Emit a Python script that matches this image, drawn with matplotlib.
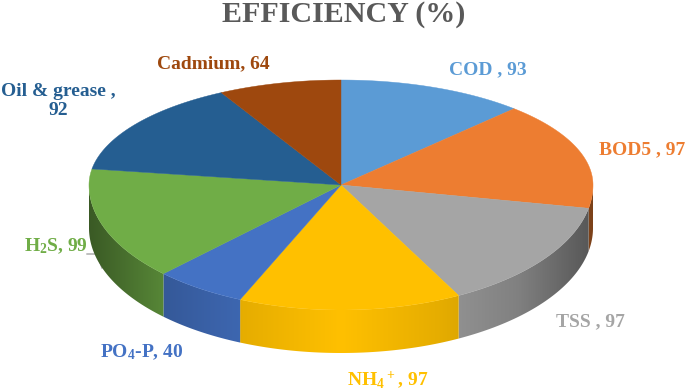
import numpy as np
import matplotlib
matplotlib.use('Agg')
import matplotlib.pyplot as plt
from matplotlib.patches import Polygon

plt.rcParams['font.family'] = 'Liberation Serif'
plt.rcParams['font.weight'] = 'bold'
plt.rcParams['mathtext.fontset'] = 'custom'
plt.rcParams['mathtext.rm'] = 'Liberation Serif:bold'
plt.rcParams['mathtext.default'] = 'rm'

names = ['COD', 'BOD5', 'TSS', 'NH4', 'PO4-P', 'H2S', 'Oil & grease', 'Cadmium']
values = [93, 97, 97, 97, 40, 99, 92, 64]
colors = ['#5b9bd5', '#ed7d31', '#a5a5a5', '#ffc000', '#4472c4', '#70ad47', '#255e91', '#9e480e']
labels = ['COD , 93', 'BOD5 , 97', 'TSS , 97', 'NH$_4$$^+$, 97', 'PO$_4$-P, 40',
          'H$_2$S, 99', 'Oil & grease ,\n92', 'Cadmium, 64']
label_x = [488, 642, 590, 388, 142, 56, 58, 213]
label_y = [70, 150, 322, 380, 352, 246, 101, 64]

# pie geometry in pixels
cx, cy = 341, 185
rx = 252
ry_up, ry_down = 105, 125
depth = 43


def project(deg):
    # clockwise from 12 o'clock, the back half is squeezed a bit like the 3d view
    deg = np.asarray(deg, dtype=float)
    back = np.cos(np.radians(deg)) > 0
    warped = np.where(back, deg - 6*np.sin(np.radians(2*deg)), deg)
    t = np.radians(warped)
    x = cx + rx*np.sin(t)
    y = np.where(back, cy - ry_up*np.cos(t), cy - ry_down*np.cos(t))
    return x, y


fig = plt.figure(figsize=(6.85, 3.9), dpi=100)
ax = fig.add_axes([0, 0, 1, 1])
ax.axis('off')

# leader line of the H2S label
ax.plot([87, 97, 102], [254, 254, 268], color='#a5a5a5', lw=1, zorder=1)

edges = np.cumsum([0] + values)/sum(values)*360

# side wall, a horizontal gradient clipped to each slice's rim
xs = np.arange(cx - rx - 2, cx + rx + 3, 1.0)
f = np.interp(np.abs(xs - cx), [0, 100, 177, 252], [1, 0.9, 0.78, 0.52])
for i in range(len(values)):
    a0 = max(edges[i], 90)
    a1 = min(edges[i+1], 270)
    if a1 <= a0:
        continue
    x, y = project(np.linspace(a0, a1, 120))
    rim = Polygon(np.c_[np.r_[x, x[::-1]], np.r_[y, y[::-1] + depth]], transform=ax.transData)
    grad = f[None, :, None]*np.array(matplotlib.colors.to_rgb(colors[i]))[None, None, :]
    im = ax.imshow(grad, extent=(xs[0], xs[-1], cy + ry_down + depth + 2, cy - 2),
                   aspect='auto', interpolation='bilinear', zorder=2)
    im.set_clip_path(rim)

# top face
for i in range(len(values)):
    a = np.linspace(edges[i], edges[i+1], 120)
    x, y = project(a)
    ax.fill(np.r_[cx, x], np.r_[cy, y], color=colors[i], lw=0.3, zorder=3)

for i in range(len(labels)):
    ax.text(label_x[i], label_y[i], labels[i], color=colors[i], fontsize=14,
            ha='center', va='center', fontweight='bold', linespacing=1.2, zorder=4)

ax.text(344, 14, 'EFFICIENCY (%)', color='#595959', fontsize=21.6, ha='center',
        va='center', fontweight='bold')

ax.set_xlim(0, 685)
ax.set_ylim(390, 0)
fig.savefig('out.png', dpi=100)
